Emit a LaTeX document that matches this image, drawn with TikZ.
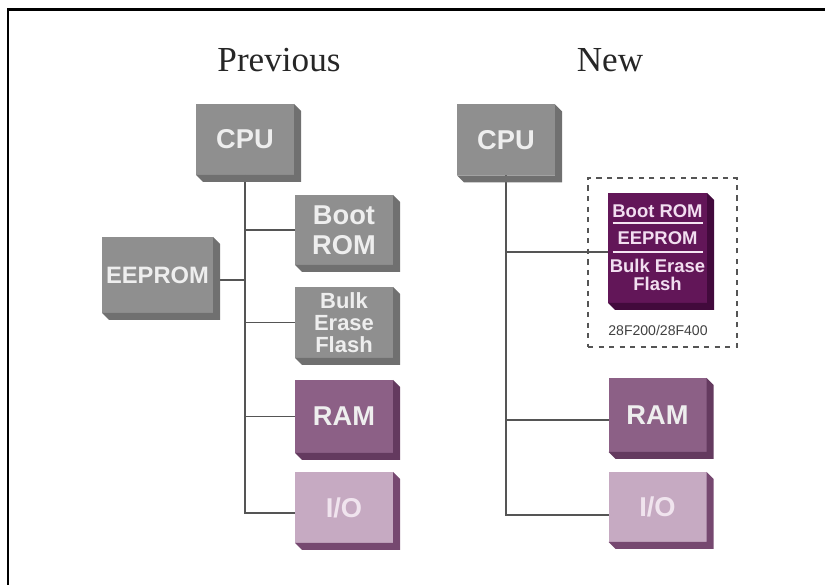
\documentclass[tikz,border=0pt]{standalone}
\usepackage{fontspec}
\setmainfont{Liberation Serif}
\setsansfont{Liberation Sans}
\usetikzlibrary{positioning, fit, backgrounds, calc}
\definecolor{boxgrey}{RGB}{143, 143, 143}
\definecolor{greyedge}{RGB}{112, 112, 112}
\definecolor{boxtext}{RGB}{238, 238, 238}
\definecolor{rammauve}{RGB}{140, 96, 134}
\definecolor{ramedge}{RGB}{100, 58, 95}
\definecolor{iolilac}{RGB}{198, 170, 194}
\definecolor{ioedge}{RGB}{118, 72, 112}
\definecolor{iotext}{RGB}{240, 228, 238}
\definecolor{chipplum}{RGB}{98, 22, 88}
\definecolor{chipedge}{RGB}{66, 10, 60}
\definecolor{chiptext}{RGB}{242, 222, 240}
\definecolor{busgrey}{RGB}{85, 85, 85}

\begin{document}
\begin{tikzpicture}[
    every node/.style={inner sep=0pt, outer sep=0pt},
    blk/.style={rectangle, minimum width=1.96cm, minimum height=1.42cm, align=center, text=boxtext, font=\sffamily\bfseries\fontsize{15.5}{17}\selectfont},
    greyblk/.style={blk, fill=boxgrey},
    ramblk/.style={blk, fill=rammauve},
    ioblk/.style={blk, fill=iolilac, text=iotext},
    chipblk/.style={blk, fill=chipplum, text=chiptext, minimum width=1.98cm, minimum height=2.2cm, font=\sffamily\bfseries\fontsize{10.5}{10.5}\selectfont},
    title/.style={font=\rmfamily\fontsize{20}{24}\selectfont, text=black!85},
    bus/.style={line width=1.1pt, draw=busgrey},
    chipline/.style={line width=0.7pt, draw=chiptext!80}
]
\useasboundingbox (0,0) rectangle (16.5,-11.7);

% Frame (open at right and bottom)
\draw[line width=1.2pt] (0.16,-11.7) -- (0.16,-0.19) -- (16.5,-0.19);

% Titles
\node[title] (prev) at (5.58,-1.2) {Previous};
\node[title] (new) at (12.2,-1.2) {New};

% Previous: separate parts
\node[greyblk] (cpuA) at (4.9,-2.79) {CPU};
\node[greyblk, minimum height=1.4cm] (bootA) at (6.88,-4.6) {Boot\\ROM};
\node[greyblk, minimum width=2.22cm, minimum height=1.52cm, font=\sffamily\bfseries\fontsize{13.5}{15}\selectfont] (eepA) at (3.15,-5.5) {EEPROM};
\node[greyblk, font=\sffamily\bfseries\fontsize{12.5}{12.5}\selectfont] (bulkA) at (6.88,-6.45) {Bulk\\Erase\\Flash};
\node[ramblk, minimum height=1.46cm] (ramA) at (6.88,-8.33) {RAM};
\node[ioblk] (ioA) at (6.88,-10.15) {I/O};

% New: one combined part
\node[greyblk] (cpuB) at (10.12,-2.8) {CPU};
\node[chipblk] (chip) at (13.15,-4.96) {Boot ROM\\[4.8pt]EEPROM\\[5.2pt]Bulk Erase\\Flash};
\node[font=\sffamily\fontsize{8}{9}\selectfont, text=black!75] (partno) at (13.16,-6.6) {28F200/28F400};
\node[draw=busgrey, dashed, line width=0.8pt, minimum width=2.98cm, minimum height=3.38cm] (pkg) at (13.25,-5.25) {};
\node[ramblk, minimum height=1.48cm] (ramB) at (13.15,-8.3) {RAM};
\node[ioblk, minimum height=1.4cm] (ioB) at (13.15,-10.14) {I/O};

\draw[chipline] ([xshift=-0.9cm, yshift=0.5cm]chip.center) -- ([xshift=0.9cm, yshift=0.5cm]chip.center);
\draw[chipline] ([xshift=-0.9cm, yshift=-0.08cm]chip.center) -- ([xshift=0.9cm, yshift=-0.08cm]chip.center);

% Bus lines, previous
\draw[bus] (cpuA.south) |- ([yshift=-0.11cm]ioA.west);
\draw[bus] (bootA.west) -- (bootA.west -| cpuA.south);
\draw[bus] ([yshift=-0.1cm]eepA.east) -- ([yshift=-0.1cm]eepA.east -| cpuA.south);
\draw[bus] (bulkA.west) -- (bulkA.west -| cpuA.south);
\draw[bus] (ramA.west) -- (ramA.west -| cpuA.south);

% Bus lines, new
\draw[bus] (cpuB.south) |- ([yshift=-0.16cm]ioB.west);
\draw[bus] ([yshift=-0.08cm]chip.west) -- ([yshift=-0.08cm]chip.west -| cpuB.south);
\draw[bus] ([yshift=-0.1cm]ramB.west) -- ([yshift=-0.1cm]ramB.west -| cpuB.south);

% 3D edges of the blocks
\foreach \n/\c in {cpuA/greyedge, bootA/greyedge, eepA/greyedge, bulkA/greyedge, ramA/ramedge, ioA/ioedge,
                   cpuB/greyedge, chip/chipedge, ramB/ramedge, ioB/ioedge}
  \fill[\c] (\n.north east) -- ++(0.14,-0.14) -- ([xshift=0.14cm, yshift=-0.14cm]\n.south east)
    -- ([xshift=0.14cm, yshift=-0.14cm]\n.south west) -- (\n.south west) -- (\n.south east) -- cycle;

\end{tikzpicture}
\end{document}
